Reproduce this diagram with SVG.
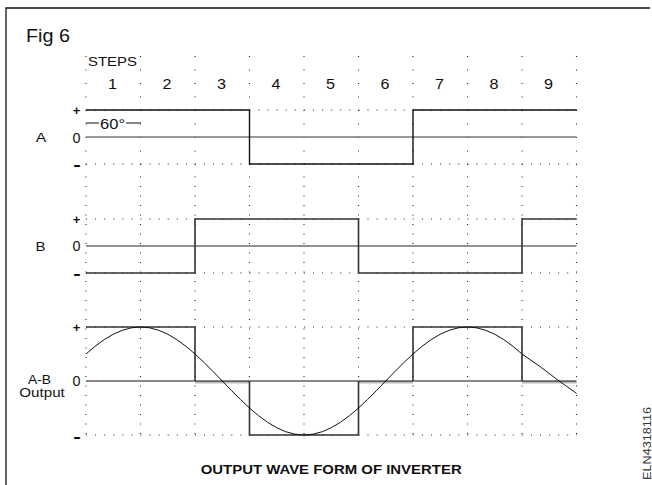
<svg xmlns="http://www.w3.org/2000/svg" width="652" height="485" viewBox="0 0 652 485">
<style>
text{font-family:"Liberation Sans",Arial,sans-serif;fill:#111}
.lbl{font-size:13.5px}
.num{font-size:14px;text-anchor:middle}
.plus{font-size:13px;font-weight:bold;text-anchor:middle}
.zero{font-size:14px;text-anchor:middle}
.minus{font-size:16px;font-weight:bold;text-anchor:middle}
.vdot1{stroke:#222;stroke-width:1.1;stroke-dasharray:1 12.5;fill:none}
.vdot2{stroke:#222;stroke-width:1.1;stroke-dasharray:1 8.5;fill:none}
.hdot{stroke:#222;stroke-width:1.1;stroke-dasharray:1 8.08;fill:none}
.axis{stroke:#222;stroke-width:1.2;fill:none}
.wave{fill:none;stroke-linejoin:miter}
</style>
<rect width="652" height="485" fill="#fff"/>
<g id="frame" stroke="#111" stroke-width="1.3" fill="none">
<path d="M6,485 V8 H650"/>
</g>
<g id="grid">
<path class="vdot1" d="M86,56V165M140.5,56V165M195,56V165M249.5,56V165M304,56V165M358.5,56V165M413,56V165M467.5,56V165M522,56V165M576.5,56V165"/>
<path class="vdot2" d="M86,176.5V437M140.5,176.5V437M195,176.5V437M249.5,176.5V437M304,176.5V437M358.5,176.5V437M413,176.5V437M467.5,176.5V437M522,176.5V437M576.5,176.5V437"/>
<path class="hdot" d="M86,110H577M86,164H577M86,219H577M86,273H577M86,327H577M86,435H577"/>
</g>
<g id="labels">
<text x="26" y="42" font-size="18" textLength="44" lengthAdjust="spacingAndGlyphs">Fig 6</text>
<text x="88" y="65.5" font-size="13" textLength="49" lengthAdjust="spacingAndGlyphs">STEPS</text>
<text class="num" x="112.5" y="89" textLength="9" lengthAdjust="spacingAndGlyphs">1</text>
<text class="num" x="167" y="89" textLength="9" lengthAdjust="spacingAndGlyphs">2</text>
<text class="num" x="221.5" y="89" textLength="9" lengthAdjust="spacingAndGlyphs">3</text>
<text class="num" x="276" y="89" textLength="9" lengthAdjust="spacingAndGlyphs">4</text>
<text class="num" x="330.5" y="89" textLength="9" lengthAdjust="spacingAndGlyphs">5</text>
<text class="num" x="385" y="89" textLength="9" lengthAdjust="spacingAndGlyphs">6</text>
<text class="num" x="439.5" y="89" textLength="9" lengthAdjust="spacingAndGlyphs">7</text>
<text class="num" x="494" y="89" textLength="9" lengthAdjust="spacingAndGlyphs">8</text>
<text class="num" x="548.5" y="89" textLength="9" lengthAdjust="spacingAndGlyphs">9</text>
<text class="lbl" x="41" y="142" text-anchor="middle" textLength="10.5" lengthAdjust="spacingAndGlyphs">A</text>
<text class="lbl" x="40.5" y="251" text-anchor="middle" textLength="10" lengthAdjust="spacingAndGlyphs">B</text>
<text class="lbl" x="39.5" y="383.5" text-anchor="middle" textLength="23" lengthAdjust="spacingAndGlyphs">A-B</text>
<text class="lbl" x="19.3" y="397" textLength="45.5" lengthAdjust="spacingAndGlyphs">Output</text>
<text class="plus" x="76.5" y="114.6">+</text>
<text class="zero" x="76.5" y="142.5" textLength="8" lengthAdjust="spacingAndGlyphs">0</text>
<text class="minus" x="77" y="169.5" textLength="7.5" lengthAdjust="spacingAndGlyphs">-</text>
<text class="plus" x="76.5" y="223.6">+</text>
<text class="zero" x="76.5" y="251.3" textLength="8" lengthAdjust="spacingAndGlyphs">0</text>
<text class="minus" x="77" y="278.5" textLength="7.5" lengthAdjust="spacingAndGlyphs">-</text>
<text class="plus" x="76.5" y="331.6">+</text>
<text class="zero" x="76.5" y="386" textLength="8" lengthAdjust="spacingAndGlyphs">0</text>
<text class="minus" x="77" y="441.5" textLength="7.5" lengthAdjust="spacingAndGlyphs">-</text>
<text x="100" y="128.5" font-size="14" textLength="25" lengthAdjust="spacingAndGlyphs">60°</text>
<path d="M86,123H99M126,123H141" stroke="#111" stroke-width="1.1"/>
<text x="200.7" y="473.5" font-size="13" font-weight="bold" textLength="261" lengthAdjust="spacingAndGlyphs">OUTPUT WAVE FORM OF INVERTER</text>
<text transform="translate(650.5,443.5) rotate(-90)" x="0" y="0" font-size="11" text-anchor="middle" style="fill:#333" textLength="73" lengthAdjust="spacingAndGlyphs">ELN4318116</text>
</g>
<g id="waveA">
<path class="axis" d="M86,137H576.5" style="stroke:#777;stroke-width:1.4"/>
<path class="wave" d="M86,110H249.5V164H413V110H576.5" stroke="#111" stroke-width="1.4"/>
</g>
<g id="waveB">
<path class="axis" d="M86,246H576.5"/>
<path class="wave" d="M86,273H195V219H358.5V273H522V219H576.5" stroke="#333" stroke-width="1.6"/>
</g>
<g id="waveOutput">
<path class="wave" d="M195,382.3H249.5M358.5,382.3H413M522,382.3H576.5" stroke="#bbb" stroke-width="2.4"/>
<path class="axis" d="M86,381H576.5" style="stroke:#111"/>
<path class="wave" d="M86,327H195V381M249.5,381V435H358.5V381M413,381V327H522V381" stroke="#333" stroke-width="1.6"/>
<polyline class="wave" stroke="#111" stroke-width="1" stroke-linejoin="round" points="86,354 95.08,346.29 104.17,339.63 113.25,334.24 122.33,330.26 131.42,327.82 140.5,327 149.58,327.82 158.67,330.26 167.75,334.24 176.83,339.63 185.92,346.29 195,354 204.08,362.53 213.17,371.62 222.25,381 231.33,390.38 240.42,399.47 249.5,408 258.58,415.71 267.67,422.37 276.75,427.76 285.83,431.74 294.92,434.18 304,435 313.08,434.18 322.17,431.74 331.25,427.76 340.33,422.37 349.42,415.71 358.5,408 367.58,399.47 376.67,390.38 385.75,381 394.83,371.62 403.92,362.53 413,354 422.08,346.29 431.17,339.63 440.25,334.24 449.33,330.26 458.42,327.82 467.5,327 476.58,327.82 485.67,330.26 494.75,334.24 503.83,339.63 512.92,346.29 522,354 540,366.5 557,379.5 576.5,393.3"/>
</g>
</svg>
